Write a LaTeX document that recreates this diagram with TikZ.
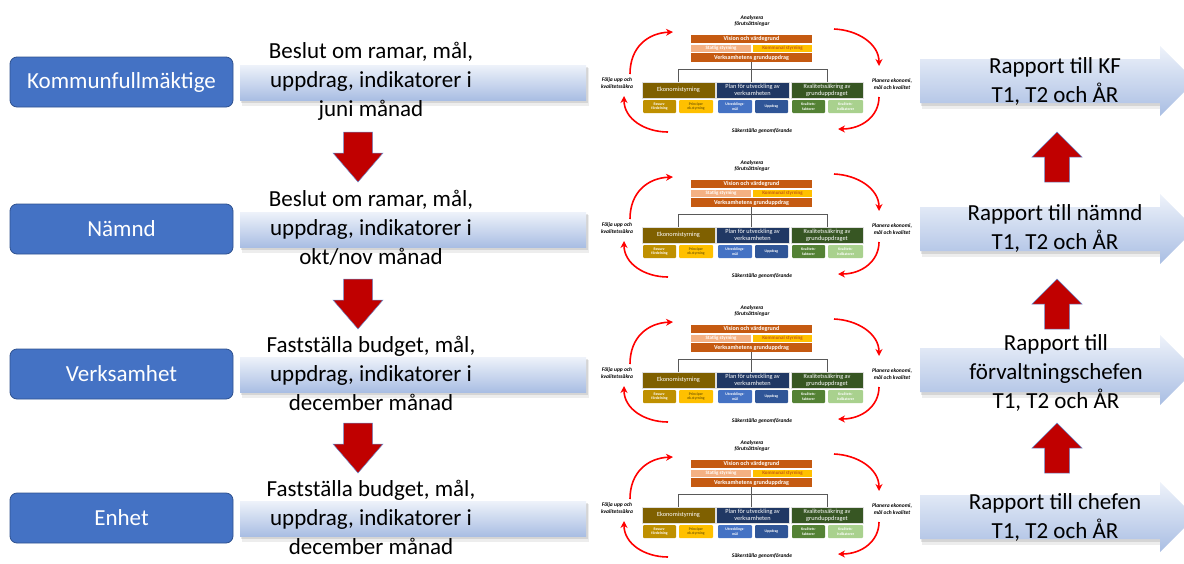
\documentclass[tikz,border=0pt]{standalone}
\usepackage{fontspec}
\setmainfont{Carlito}
\usepackage{tikz}
\usetikzlibrary{arrows.meta, positioning}
\usepackage{xcolor}

\definecolor{kfblue}{HTML}{4472C4}
\definecolor{kfborder}{HTML}{2F528F}
\definecolor{bandtop}{HTML}{EEF2FA}
\definecolor{bandbot}{HTML}{A9BEE3}
\definecolor{blockred}{HTML}{C00000}
\definecolor{cyclered}{HTML}{FF0000}
\definecolor{orangeD}{HTML}{C55A11}
\definecolor{orangeL}{HTML}{F4B183}
\definecolor{goldY}{HTML}{FFC000}
\definecolor{goldD}{HTML}{BF9000}
\definecolor{oliveB}{HTML}{7F6000}
\definecolor{navyB}{HTML}{203864}
\definecolor{midblue}{HTML}{2F5597}
\definecolor{dgreen}{HTML}{375623}
\definecolor{mgreen}{HTML}{548235}
\definecolor{lgreen}{HTML}{A9D18E}

\tikzset{
  orgbox/.style={fill=kfblue, draw=kfborder, line width=0.8pt, rounded corners=7pt,
    minimum width=223pt, minimum height=50pt, text=white, font=\fontsize{23}{28}\selectfont},
  maintext/.style={align=center, inner sep=0pt, font=\fontsize{23}{29}\selectfont},
  redblock/.style={fill=blockred, draw=kfblue!80, line width=0.5pt},
  cyclab/.style={align=center, inner sep=0pt, font=\fontsize{5.5}{6.5}\selectfont\bfseries\itshape},
  cycarrow/.style={cyclered, line width=1.6pt, -{Stealth[length=7pt, width=7pt]}},
  tbox/.style={inner sep=0pt, text=white, font=\fontsize{6}{7}\selectfont\bfseries},
  bigbox/.style={inner sep=0pt, text=white, draw=white!75!gray, line width=0.4pt,
    minimum height=16pt, font=\fontsize{6.3}{7}\selectfont},
  smallbox/.style={inner sep=0pt, text=white, rounded corners=1pt, minimum height=13pt,
    font=\fontsize{3.8}{4.4}\selectfont\bfseries},
  treeline/.style={gray!70!black, line width=0.6pt}
}

\newcommand{\downblock}[2]{%
  \draw[redblock] (#1-14.5,#2) -- (#1+14.5,#2) -- (#1+14.5,#2+21) -- (#1+25,#2+21)
    -- (#1,#2+50) -- (#1-25,#2+21) -- (#1-14.5,#2+21) -- cycle;}
\newcommand{\upblock}[2]{%
  \draw[redblock] (#1,#2) -- (#1+25,#2+25) -- (#1+12.5,#2+25) -- (#1+12.5,#2+50)
    -- (#1-12.5,#2+50) -- (#1-12.5,#2+25) -- (#1-25,#2+25) -- cycle;}
\newcommand{\leftband}[1]{%
  \fill[black, opacity=.07] (242,#1-14) rectangle (589,#1+24);
  \fill[black, opacity=.10] (241,#1-15) rectangle (588,#1+21);
  \shade[top color=bandtop, bottom color=bandbot] (240,#1-17) rectangle (586,#1+18);}
\newcommand{\rightband}[1]{%
  \fill[black, opacity=.07] (922,#1-18) rectangle (1160,#1+28);
  \fill[black, opacity=.10] (921,#1-19) rectangle (1160,#1+25);
  \shade[top color=bandtop, bottom color=bandbot] (920,#1-22) -- (1160,#1-22) -- (1160,#1-35)
    -- (1195,#1) -- (1160,#1+35) -- (1160,#1+22) -- (920,#1+22) -- cycle;}

\begin{document}
\begin{tikzpicture}[x=1pt, y=-1pt]
        \useasboundingbox (0,0) rectangle (1184,563);
        % Bands behind the decision texts
        \leftband{82}
        \leftband{229}
        \leftband{374}
        \leftband{518}
        % Small copies of the steering model
        \foreach \dy in {0,145,290,425}{
        \begin{scope}[shift={(0,\dy)}]
          \node[cyclab] (anal) at (752,21) {Analysera\\förutsättningar};
          \node[cyclab] (folj) at (617,83) {Följa upp och\\kvalitetssäkra};
          \node[cyclab] (plan) at (892,84) {Planera ekonomi,\\mål och kvalitet};
          \node[cyclab] (sakr) at (762,131) {Säkerställa genomförande};
          \draw[cycarrow] (630,74) .. controls (630,47) and (648,33) .. (673,32);
          \draw[cycarrow] (834,29) .. controls (858,30) and (879,44) .. (879,66);
          \draw[cycarrow] (879,97) .. controls (879,116) and (862,129) .. (838,129);
          \draw[cycarrow] (668,132) .. controls (645,132) and (624,119) .. (624,96);
          \node[tbox, fill=orangeD, minimum width=121pt, minimum height=8pt] (vis) at (751.5,39) {Vision och värdegrund};
          \node[tbox, fill=orangeL, minimum width=60pt, minimum height=7pt, font=\fontsize{5}{6}\selectfont\bfseries] (stat) at (721,48.5) {Statlig styrning};
          \node[tbox, fill=goldY, text=orangeD, minimum width=59pt, minimum height=7pt, font=\fontsize{5}{6}\selectfont\bfseries] (komm) at (782.5,48.5) {Kommunal styrning};
          \node[tbox, fill=orangeD, minimum width=121pt, minimum height=9pt] (grund) at (751.5,57.5) {Verksamhetens grunduppdrag};
          \node[bigbox, fill=oliveB, minimum width=73pt] (eko) at (678.5,90) {Ekonomistyrning};
          \node[bigbox, fill=navyB, minimum width=73pt, align=center] (utv) at (752.5,90) {Plan för utveckling av\\verksamheten};
          \node[bigbox, fill=dgreen, minimum width=72pt, align=center] (kval) at (827,90) {Kvalitetssäkring av\\grunduppdraget};
          \draw[treeline] (grund.south) -- ++(0,7) -| (eko.north);
          \draw[treeline] (grund.south) -- ++(0,7) -| (kval.north);
          \draw[treeline] (grund.south) -- (grund.south |- utv.north);
          \node[smallbox, fill=goldD, minimum width=33pt, align=center] (res) at (659.5,106.5) {Resurs-\\fördelning};
          \node[smallbox, fill=goldY, text=oliveB, minimum width=34pt, align=center] (prin) at (696,106.5) {Principer\\ek.styrning};
          \node[smallbox, fill=kfblue, minimum width=34pt, align=center] (umal) at (735,106.5) {Utvecklings-\\mål};
          \node[smallbox, fill=midblue, minimum width=33pt] (uppd) at (771.5,106.5) {Uppdrag};
          \node[smallbox, fill=mgreen, minimum width=33pt, align=center] (kfak) at (808.5,106.5) {Kvalitets-\\faktorer};
          \node[smallbox, fill=lgreen, minimum width=35pt, align=center] (kind) at (845.5,106.5) {Kvalitets-\\indikatorer};
        \end{scope}
        }
        % Bands for the reports
        \rightband{81}
        \rightband{229}
        \rightband{370}
        \rightband{517}
        % Levels
        \node[orgbox] (kf) at (121.5,82) {Kommunfullmäktige};
        \node[orgbox] (namnd) at (121.5,229) {Nämnd};
        \node[orgbox] (verks) at (121.5,374) {Verksamhet};
        \node[orgbox] (enhet) at (121.5,518) {Enhet};
        % Decisions
        \node[maintext] (kfbeslut) at (371,81) {Beslut om ramar, mål,\\uppdrag, indikatorer i\\juni månad};
        \node[maintext] (nbeslut) at (371,228) {Beslut om ramar, mål,\\uppdrag, indikatorer i\\okt/nov månad};
        \node[maintext] (vbeslut) at (371,373) {Fastställa budget, mål,\\uppdrag, indikatorer i\\december månad};
        \node[maintext] (ebeslut) at (371,517) {Fastställa budget, mål,\\uppdrag, indikatorer i\\december månad};
        % Reports
        \node[maintext] (kfrapp) at (1055,81) {Rapport till KF\\T1, T2 och ÅR};
        \node[maintext] (nrapp) at (1055,228) {Rapport till nämnd\\T1, T2 och ÅR};
        \node[maintext] (vrapp) at (1056,373) {Rapport till\\förvaltningschefen\\T1, T2 och ÅR};
        \node[maintext] (erapp) at (1055,517) {Rapport till chefen\\T1, T2 och ÅR};
        % Red arrows
        \downblock{358}{132}
        \downblock{358}{279}
        \downblock{358}{423}
        \upblock{1057}{132}
        \upblock{1057}{279}
        \upblock{1057}{423}
    \end{tikzpicture}
\end{document}
